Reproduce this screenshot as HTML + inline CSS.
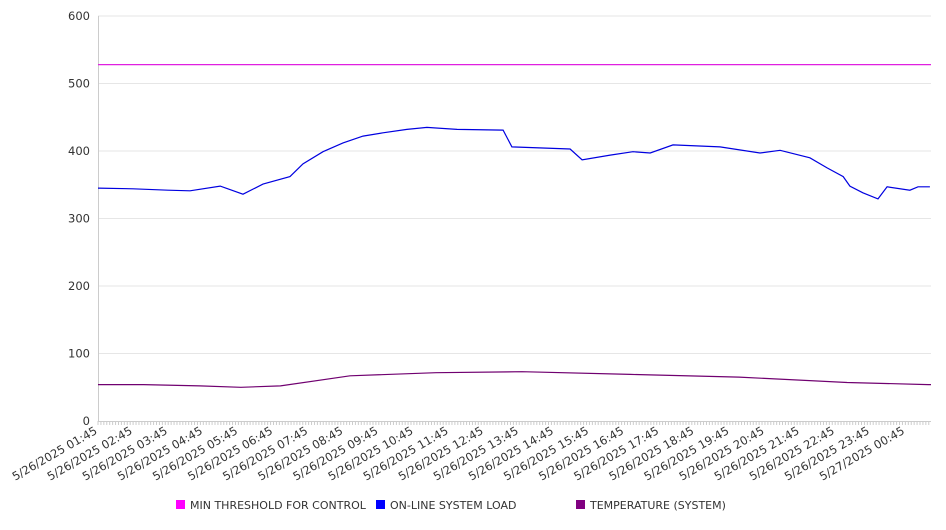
<!DOCTYPE html>
<html><head><meta charset="utf-8"><style>
body{margin:0;background:#fff;width:946px;height:526px;overflow:hidden;font-family:"DejaVu Sans","Liberation Sans",sans-serif}
svg text{font-family:"DejaVu Sans","Liberation Sans",sans-serif;fill:#333}
</style></head><body>
<svg id="chart" width="946" height="526" xmlns="http://www.w3.org/2000/svg"></svg>
<script>
const xLabels=["5/26/2025 01:45","5/26/2025 02:45","5/26/2025 03:45","5/26/2025 04:45","5/26/2025 05:45","5/26/2025 06:45","5/26/2025 07:45","5/26/2025 08:45","5/26/2025 09:45","5/26/2025 10:45","5/26/2025 11:45","5/26/2025 12:45","5/26/2025 13:45","5/26/2025 14:45","5/26/2025 15:45","5/26/2025 16:45","5/26/2025 17:45","5/26/2025 18:45","5/26/2025 19:45","5/26/2025 20:45","5/26/2025 21:45","5/26/2025 22:45","5/26/2025 23:45","5/27/2025 00:45"];
const yTicks=[0,100,200,300,400,500,600];
const loadHours=[0,1.00,1.99,2.62,3.48,4.13,4.70,5.47,5.84,6.41,6.98,7.55,8.12,8.80,9.37,10.23,11.54,11.79,13.45,13.79,14.59,15.24,15.73,16.38,17.72,18.86,19.43,20.28,20.77,21.23,21.42,21.79,22.22,22.48,23.13,23.36,23.70];
const loadValues=[345,344,342,341,348,336,351,362,381,399,412,422,427,432,435,432,431,406,403,387,394,399,397,409,406,397,401,390,375,362,348,338,329,347,342,347,347];
const tempHours=[0,1.3,2.9,4.07,5.2,7.18,9.63,12.08,15.16,18.26,21.34,23.65,23.73];
const tempValues=[54,54,52,50,52,67,71.6,73,69,65,57,54,54];
const thresholdHours=[0,23.73];
const thresholdValues=[528,528];
const X0=98,X1=931,Y0=421,Y1=16,HMAX=23.73;
const xs=h=>X0+h/HMAX*(X1-X0);
const ys=v=>Y0-v/600*(Y0-Y1);
const svg=document.getElementById('chart');
const NS='http://www.w3.org/2000/svg';
function mk(t,a){const e=document.createElementNS(NS,t);for(const k in a)e.setAttribute(k,a[k]);svg.appendChild(e);return e;}
yTicks.forEach(v=>{
  if(v>0){const g=mk('line',{x1:X0,x2:X1,y1:ys(v),y2:ys(v),stroke:'#e6e6e6','stroke-width':1});
  
  }
  const t=mk('text',{x:90,y:ys(v)+4,'text-anchor':'end','font-size':'11.5'});t.textContent=v;
  
  
});
const ax=mk('line',{x1:X0+0.5,x2:X0+0.5,y1:Y1,y2:Y0,stroke:'#ccc'});


const bx=mk('line',{x1:X0,x2:X1,y1:Y0+0.5,y2:Y0+0.5,stroke:'#ccc'});


for(let m=0;m<=HMAX*60;m+=5){const l=mk('line',{x1:xs(m/60),x2:xs(m/60),y1:Y0,y2:Y0+4,stroke:'#ccc'});

}
xLabels.forEach((s,i)=>{
  const x=xs(i),y=Y0+12;
  const t=mk('text',{x:x,y:y,'text-anchor':'end','font-size':'11.5',transform:`rotate(-30 ${x} ${y})`});t.textContent=s;
  
  
});
function line(hs,vs,c,name){
  const p=mk('polyline',{points:hs.map((h,i)=>xs(h).toFixed(1)+','+ys(vs[i]).toFixed(1)).join(' '),fill:'none',stroke:c,'stroke-width':1.2});
  
  
}
line(thresholdHours,thresholdValues,'#e020e0','threshold-line');
line(loadHours,loadValues,'#0000e0','system-load-line');
line(tempHours,tempValues,'#700070','temperature-line');
[[176,'#ff00ff','MIN THRESHOLD FOR CONTROL','legend-threshold'],[376,'#0000ff','ON-LINE SYSTEM LOAD','legend-load'],[576,'#800080','TEMPERATURE (SYSTEM)','legend-temperature']].forEach(d=>{
  const r=mk('rect',{x:d[0],y:500,width:9,height:9,fill:d[1]});
  
  
  const t=mk('text',{x:d[0]+14,y:509,'font-size':'11'});t.textContent=d[2];
  
  
});
</script>
</body></html>
